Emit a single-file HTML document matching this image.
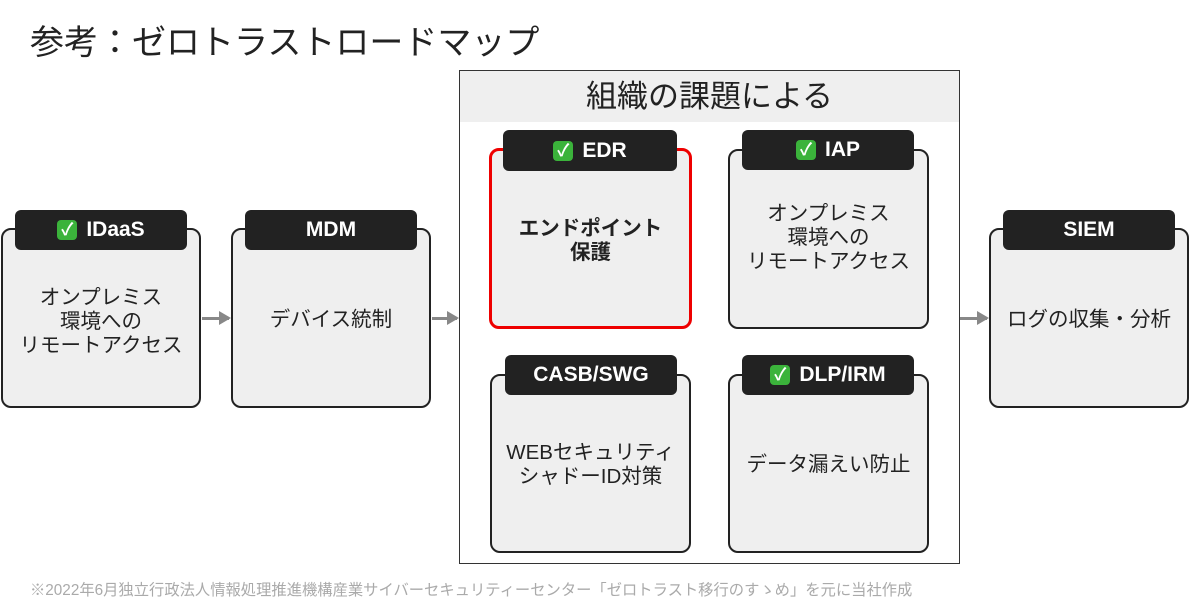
<!DOCTYPE html>
<html><head><meta charset="utf-8"><style>
body{margin:0;width:1200px;height:608px;background:#fff;position:relative;overflow:hidden;font-family:"Liberation Sans","Noto Sans CJK JP",sans-serif;}
.a{position:absolute;box-sizing:border-box}
.box{background:#efefef;border:2px solid #222;border-radius:10px;display:flex;align-items:center;justify-content:center;text-align:center;font-size:20.5px;line-height:24px;color:#222}
.tab{background:#222;color:#fff;border-radius:6px;font-weight:bold;font-size:21px;display:flex;align-items:center;justify-content:center}
.ck{display:inline-block;width:20px;height:20px;background:#3bb33b;border-radius:4px;color:#fff;font-size:17px;line-height:20px;margin-right:9px;text-align:center}
.arr{position:absolute;height:3px;background:#888}
.arr:after{content:"";position:absolute;right:-2px;top:-6px;border-left:12px solid #888;border-top:7.5px solid transparent;border-bottom:7.5px solid transparent}
</style></head><body>
<div class="a" style="left:30px;top:15px;font-size:34px;color:#222">参考：ゼロトラストロードマップ</div>
<div class="a" style="left:459px;top:70px;width:501px;height:494px;border:1.5px solid #333"></div>
<div class="a" style="left:460px;top:71px;width:499px;height:51px;background:#efefef;font-size:31px;text-align:center;line-height:51px;color:#222">組織の課題による</div>

<div class="a box" style="left:1px;top:228px;width:200px;height:180px;padding-top:8px">オンプレミス<br>環境への<br>リモートアクセス</div>
<div class="a tab" style="left:15px;top:210px;width:172px;height:40px"><span class="ck">✓</span>IDaaS</div>
<div class="a box" style="left:231px;top:228px;width:200px;height:180px;padding-top:3px">デバイス統制</div>
<div class="a tab" style="left:245px;top:210px;width:172px;height:40px">MDM</div>

<div class="a box" style="left:489px;top:148px;width:203px;height:181px;border:3px solid #e00;font-weight:bold;padding-top:4px">エンドポイント<br>保護</div>
<div class="a tab" style="left:503px;top:130px;width:174px;height:41px"><span class="ck">✓</span>EDR</div>
<div class="a box" style="left:728px;top:149px;width:201px;height:180px;padding-bottom:2px">オンプレミス<br>環境への<br>リモートアクセス</div>
<div class="a tab" style="left:742px;top:130px;width:172px;height:40px"><span class="ck">✓</span>IAP</div>

<div class="a box" style="left:490px;top:374px;width:201px;height:179px;padding-top:2px">WEBセキュリティ<br>シャドーID対策</div>
<div class="a tab" style="left:505px;top:355px;width:172px;height:40px">CASB/SWG</div>
<div class="a box" style="left:728px;top:374px;width:201px;height:179px;padding-top:2px">データ漏えい防止</div>
<div class="a tab" style="left:742px;top:355px;width:172px;height:40px"><span class="ck">✓</span>DLP/IRM</div>

<div class="a box" style="left:989px;top:228px;width:200px;height:180px;padding-top:3px">ログの収集・分析</div>
<div class="a tab" style="left:1003px;top:210px;width:172px;height:40px">SIEM</div>

<div class="arr" style="left:202px;top:317px;width:27px"></div>
<div class="arr" style="left:432px;top:317px;width:25px"></div>
<div class="arr" style="left:960px;top:317px;width:27px"></div>

<div class="a" style="left:30px;top:578px;font-size:15.3px;color:#aaa;white-space:nowrap">※2022年6月独立行政法人情報処理推進機構産業サイバーセキュリティーセンター「ゼロトラスト移行のすゝめ」を元に当社作成</div>
</body></html>
